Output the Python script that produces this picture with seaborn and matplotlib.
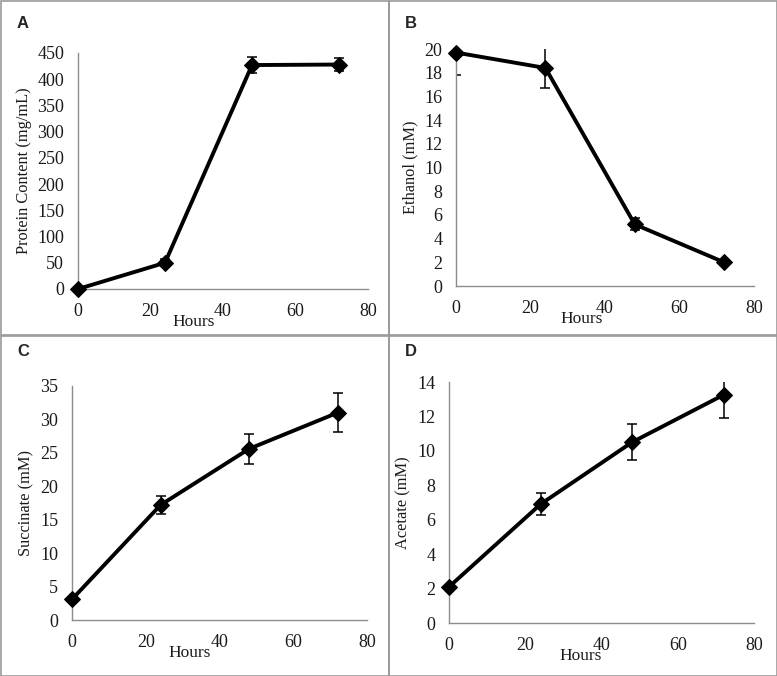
import matplotlib
matplotlib.use("Agg")
import matplotlib.pyplot as plt
import seaborn as sns
import pandas as pd
from matplotlib.patches import Rectangle

hours = [0, 24, 48, 72]
protein = [0, 50, 427, 428]
protein_err = [3, 7, 16, 12]
ethanol = [19.7, 18.4, 5.2, 2.0]
ethanol_err = [1.9, 1.7, 0.5, 0.2]
succinate = [3.1, 17.2, 25.6, 31.0]
succinate_err = [0.3, 1.3, 2.2, 2.9]
acetate = [2.1, 6.9, 10.5, 13.25]
acetate_err = [0.1, 0.65, 1.05, 1.35]

panels = [
    ("A", "Protein Content (mg/mL)", protein, protein_err, (0, 450), 50,
     [0.1004, 0.5725, 0.3732, 0.3491], 0.40),
    ("B", "Ethanol (mM)", ethanol, ethanol_err, (0, 20), 2,
     [0.5869, 0.5769, 0.3835, 0.3506], 0.42),
    ("C", "Succinate (mM)", succinate, succinate_err, (0, 35), 5,
     [0.0927, 0.0828, 0.3797, 0.3462], 0.40),
    ("D", "Acetate (mM)", acetate, acetate_err, (0, 14), 2,
     [0.5779, 0.0784, 0.3925, 0.3565], 0.43),
]

sns.set_style("white")
plt.rcParams["font.family"] = ["Liberation Serif", "DejaVu Serif"]

fig = plt.figure(figsize=(7.77, 6.76), dpi=100)

# panel borders
for (x0, y0, w, h) in [(0.5, 0.5, 388, 334), (388.5, 0.5, 388, 334),
                       (0.5, 335.5, 388, 340), (388.5, 335.5, 388, 340)]:
    fig.patches.append(Rectangle((x0 / 777, 1 - (y0 + h) / 676), w / 777, h / 676,
                                 transform=fig.transFigure, fill=False,
                                 edgecolor="#9a9a9a", linewidth=1.2))

axcol = "#8c8c8c"
txtcol = "#1a1a1a"
for letter, ylabel, vals, errs, ylim, ystep, pos, xlab_x in panels:
    ax = fig.add_axes(pos)
    df = pd.DataFrame({"Hours": hours, "val": vals, "err": errs})
    ax.errorbar(df["Hours"], df["val"], yerr=df["err"], fmt="none",
                ecolor="black", elinewidth=1.1, capsize=3.5, capthick=1.1, zorder=2)
    sns.lineplot(data=df, x="Hours", y="val", ax=ax, color="black", linewidth=2.8,
                 marker="D", markersize=8.5, markeredgecolor="black",
                 markerfacecolor="black", zorder=3)
    for line in ax.lines:
        if line.get_marker() == "D":
            line.set_clip_on(False)
    ax.set_xlim(0, 80)
    ax.set_ylim(*ylim)
    ax.set_xticks(range(0, 81, 20))
    yt = []
    v = ylim[0]
    while v <= ylim[1] + 1e-9:
        yt.append(v)
        v += ystep
    ax.set_yticks(yt)
    for s in ["top", "right"]:
        ax.spines[s].set_visible(False)
    for s in ["left", "bottom"]:
        ax.spines[s].set_color(axcol)
        ax.spines[s].set_linewidth(1.0)
    ax.tick_params(axis="both", direction="out", length=4, width=1.0, color=axcol,
                   labelsize=13, labelcolor=txtcol)
    ax.tick_params(axis="y", pad=6)
    ax.tick_params(axis="x", pad=6)
    ax.set_xlabel("Hours", fontsize=12.5, color=txtcol)
    ax.xaxis.set_label_coords(xlab_x, -0.105)
    ax.set_ylabel(ylabel, fontsize=11.8, color=txtcol, labelpad=4)
    ax.patch.set_alpha(0)

# panel letters
for letter, (px, py) in zip("ABCD", [(17, 23), (405, 23), (17, 352), (405, 352)]):
    fig.text(px / 777, 1 - py / 676, letter, fontsize=12, fontweight="bold",
             family=["Liberation Sans", "DejaVu Sans"], va="center", ha="left")

fig.savefig("out.png", dpi=100)
